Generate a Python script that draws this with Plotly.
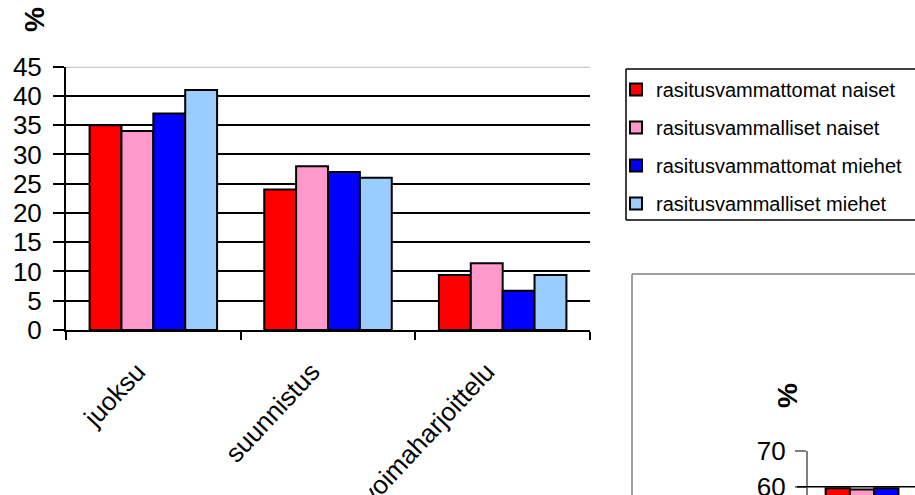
import plotly.graph_objects as go

W, H = 915, 495

# --- data -------------------------------------------------------------
sports = ["juoksu", "suunnistus", "voimaharjoittelu"]
series_names = [
    "rasitusvammattomat naiset",
    "rasitusvammalliset naiset",
    "rasitusvammattomat miehet",
    "rasitusvammalliset miehet",
]
naiset_ei = [35, 24, 9.4]
naiset_vamma = [34, 28, 11.4]
miehet_ei = [37, 27, 6.7]
miehet_vamma = [41, 26, 9.4]
y_ticks = [0, 5, 10, 15, 20, 25, 30, 35, 40, 45]

# second panel (only its top edge fits in the frame)
sports2 = ["juoksu"]
naiset_ei2 = [59.6]
naiset_vamma2 = [59.2]
miehet_ei2 = [59.6]
miehet_vamma2 = [54]
y_ticks2 = [60, 70]

colors = ["#FF0000", "#FF99CC", "#0000FF", "#99CCFF"]
FONT = "Liberation Sans, Arial, sans-serif"


def px_x(p):
    return p / W


def px_y(p):
    return 1 - p / H


fig = go.Figure()

main_values = [naiset_ei, naiset_vamma, miehet_ei, miehet_vamma]
for name, vals, col in zip(series_names, main_values, colors):
    fig.add_trace(go.Bar(
        x=sports, y=vals, name=name, legendgroup=name,
        marker=dict(color=col, line=dict(color="black", width=2)),
        xaxis="x", yaxis="y",
    ))

second_values = [naiset_ei2, naiset_vamma2, miehet_ei2, miehet_vamma2]
for name, vals, col in zip(series_names, second_values, colors):
    fig.add_trace(go.Bar(
        x=sports2, y=vals, name=name, legendgroup=name, showlegend=False,
        marker=dict(color=col, line=dict(color="black", width=2)),
        xaxis="x2", yaxis="y2", cliponaxis=True,
    ))

# main plot area: x 66..590 px, y 0 at 330 px, 45 at 66.7 px
fig.update_layout(
    width=W, height=H, autosize=False,
    margin=dict(l=0, r=0, t=0, b=0),
    paper_bgcolor="white", plot_bgcolor="rgba(0,0,0,0)",
    barmode="group", bargap=0.27, bargroupgap=0,
    font=dict(family=FONT, color="black"),
    xaxis=dict(
        domain=[px_x(66), px_x(590)], anchor="y",
        type="category", tickson="boundaries",
        ticks="outside", ticklen=8, tickwidth=1.5, tickcolor="black",
        tickangle=-47, tickfont=dict(size=26),
        ticklabelstandoff=14, ticklabelshift=-16,
        showline=True, linecolor="black", linewidth=2,
        showgrid=False, automargin=False,
    ),
    yaxis=dict(
        domain=[px_y(330), px_y(66.7)], anchor="x",
        range=[0, 45], tickvals=y_ticks,
        ticks="outside", ticklen=11, tickwidth=1.5, tickcolor="black",
        tickfont=dict(size=26), ticklabelstandoff=6,
        showline=True, linecolor="black", linewidth=2,
        showgrid=True, gridcolor="black", gridwidth=1.5,
        zeroline=False, automargin=False,
    ),
    xaxis2=dict(
        domain=[px_x(807.7), 1], anchor="y2",
        type="category", range=[-0.5, 0.307],
        showticklabels=False, ticks="", showline=False, showgrid=False,
        automargin=False,
    ),
    yaxis2=dict(
        domain=[0, px_y(450.7)], anchor="x2",
        range=[57.7, 70], tickvals=y_ticks2,
        ticks="outside", ticklen=11, tickwidth=1.5, tickcolor="#808080",
        tickfont=dict(size=26), ticklabelstandoff=4,
        ticklabeloverflow="allow",
        showline=True, linecolor="#808080", linewidth=1.5,
        showgrid=False, zeroline=False, automargin=False,
    ),
    legend=dict(
        x=px_x(616), y=px_y(70), xanchor="left", yanchor="top",
        font=dict(size=20), tracegroupgap=9,
        bgcolor="rgba(0,0,0,0)", borderwidth=0,
        itemclick=False, itemdoubleclick=False,
    ),
    showlegend=True,
)


def seg(x0, y0, x1, y1, color, width):
    return dict(type="line", xref="paper", yref="paper",
                x0=px_x(x0), x1=px_x(x1), y0=px_y(y0), y1=px_y(y1),
                line=dict(color=color, width=width), layer="above")


shapes = [
    # light top border of the main plot area at 45
    dict(type="line", xref="x domain", yref="y", x0=0, x1=1, y0=45, y1=45,
         line=dict(color="#BDBDBD", width=2), layer="above"),
    # legend frame, open on the right where it leaves the frame
    seg(626, 69, W, 69, "black", 1.5),
    seg(626, 69, 626, 220, "black", 1.5),
    seg(626, 220, W, 220, "black", 1.5),
    # frame of the second chart, top and left sides
    seg(632, 274, W, 274, "#808080", 1.5),
    seg(632, 274, 632, H, "#808080", 1.5),
    # gridline at 60 in the second chart
    dict(type="line", xref="paper", yref="y2", x0=px_x(797), x1=1, y0=60, y1=60,
         line=dict(color="black", width=1.5), layer="above"),
]
fig.update_layout(shapes=shapes)

fig.add_annotation(
    text="<b>%</b>", xref="paper", yref="paper",
    x=px_x(34), y=px_y(20), xanchor="center", yanchor="middle",
    showarrow=False, textangle=-90,
    font=dict(size=28, family=FONT),
)
fig.add_annotation(
    text="<b>%</b>", xref="paper", yref="paper",
    x=px_x(787), y=px_y(396), xanchor="center", yanchor="middle",
    showarrow=False, textangle=-90,
    font=dict(size=28, family=FONT),
)

fig.write_html("out.html", config={"responsive": False})
